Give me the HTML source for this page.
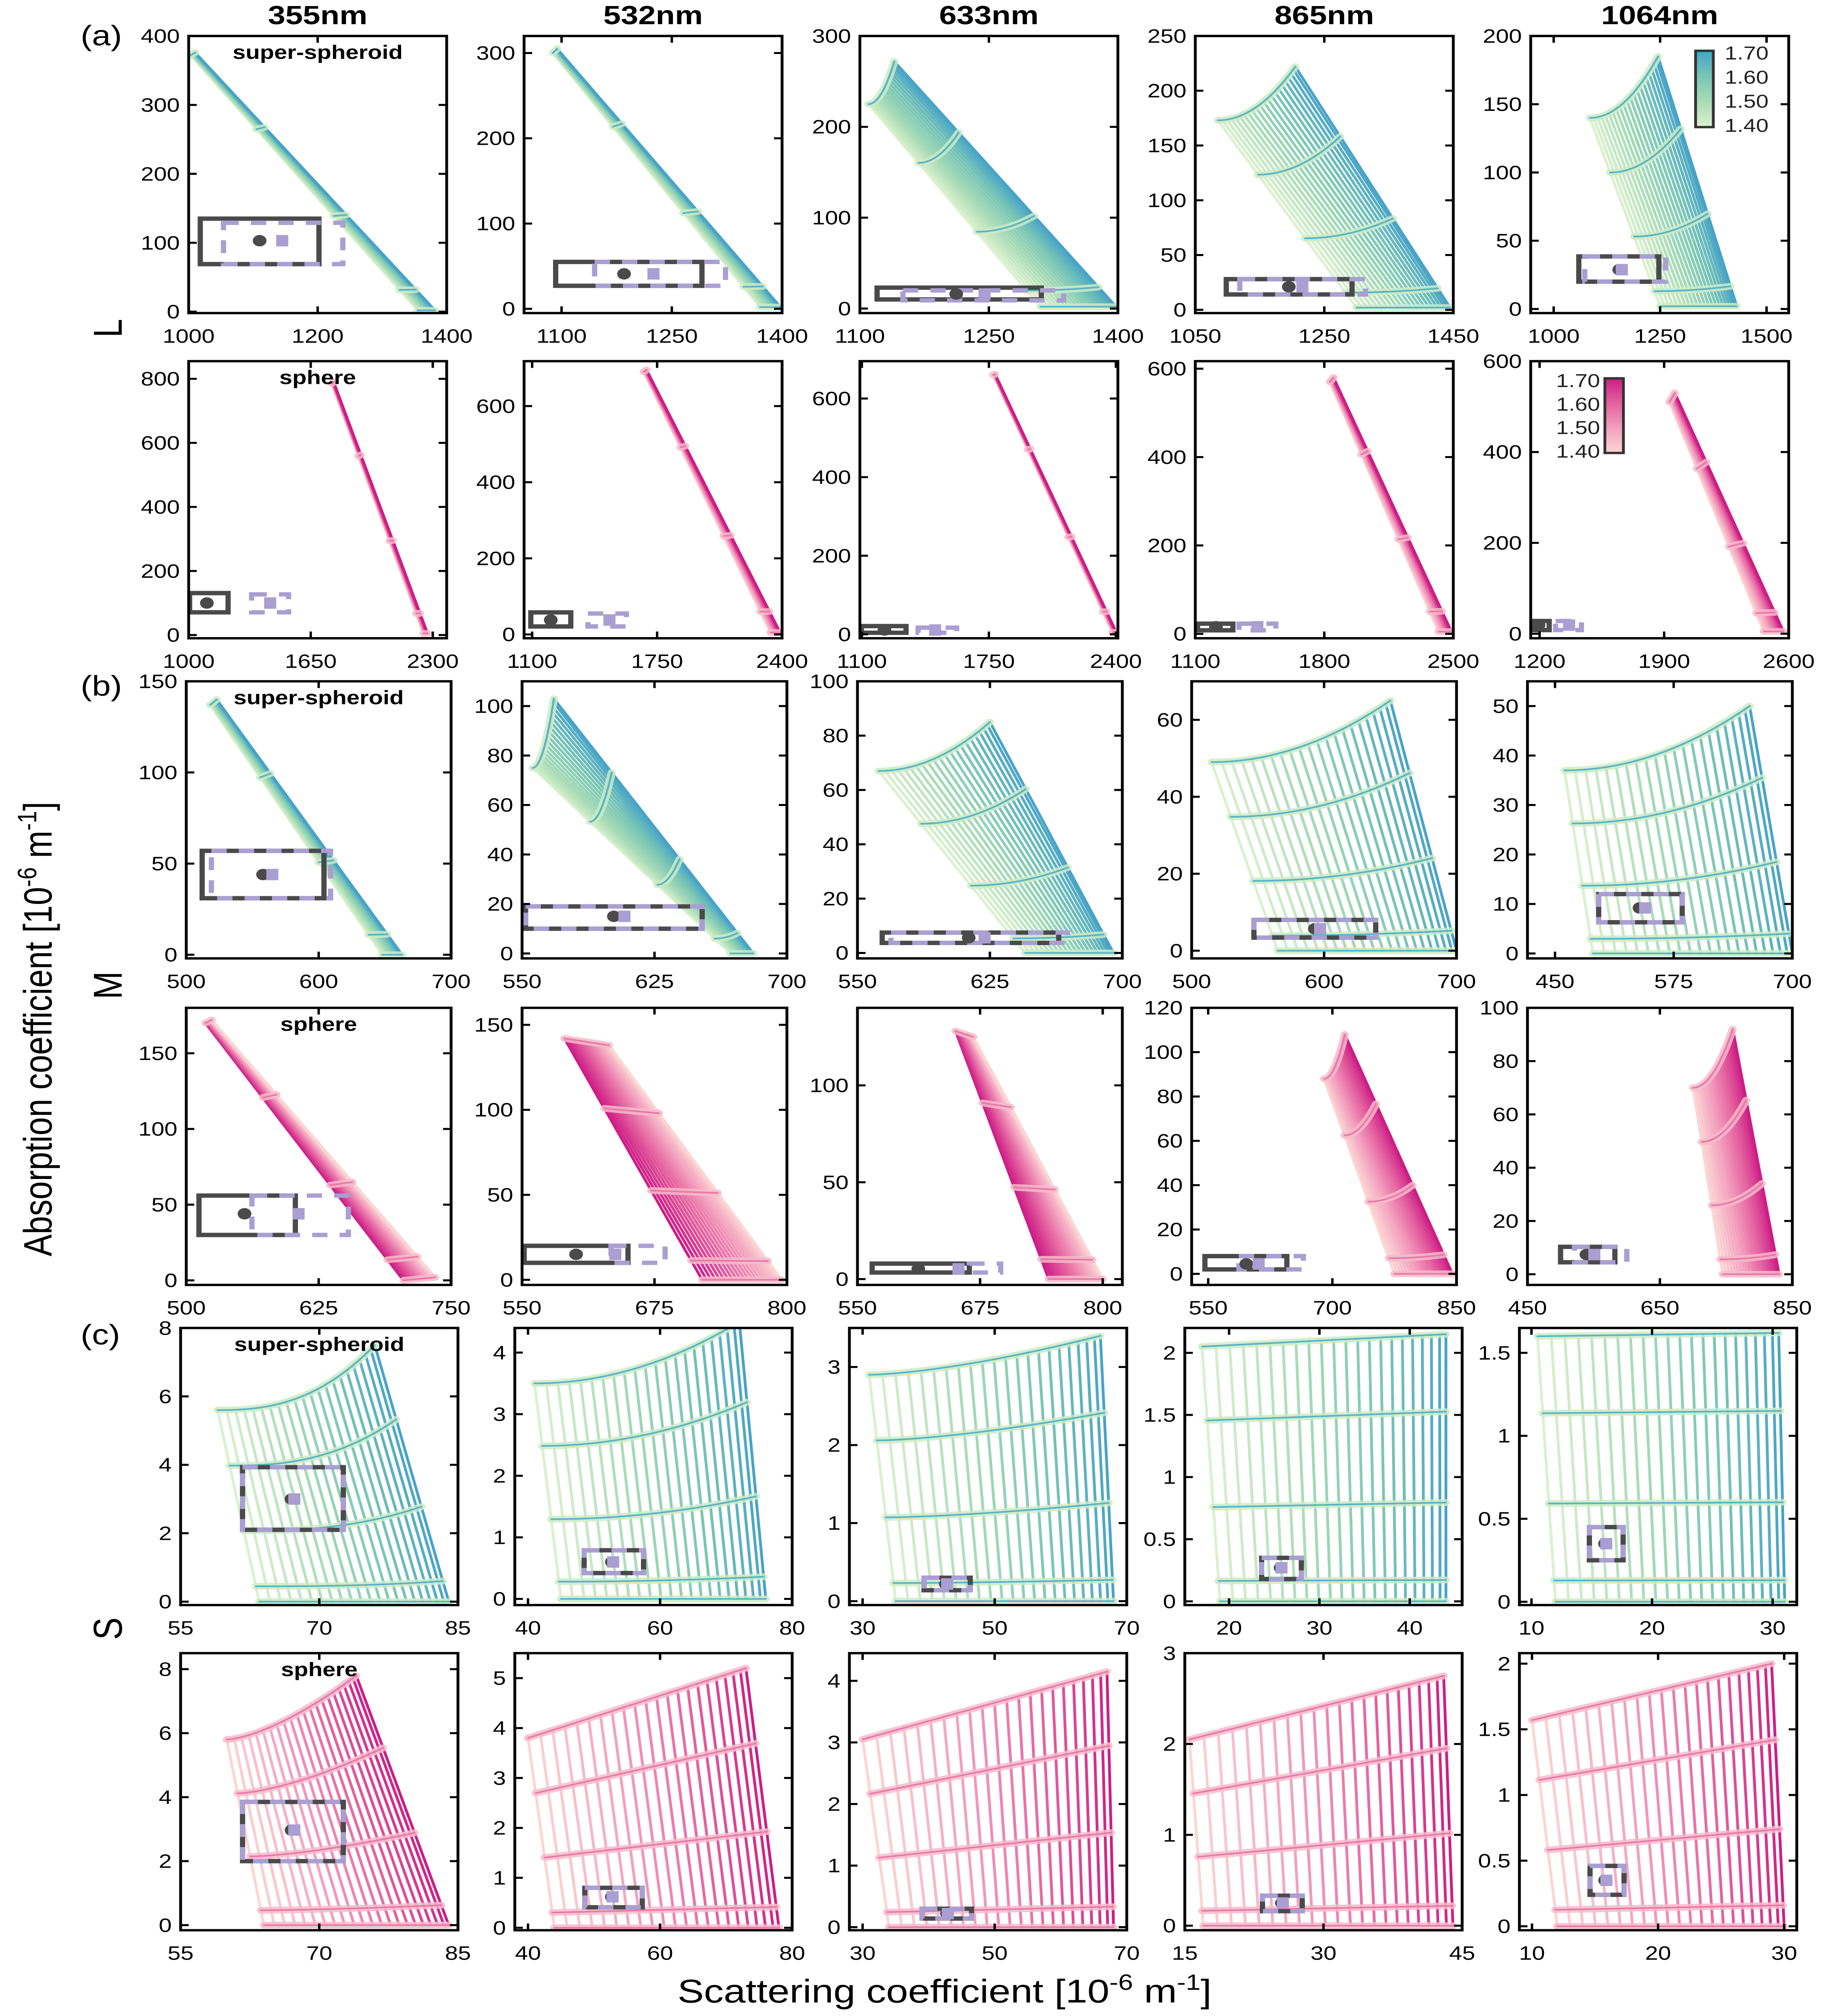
<!DOCTYPE html>
<html><head><meta charset="utf-8">
<style>
html,body{margin:0;padding:0;background:#fff;overflow:hidden;}
svg{display:block;position:absolute;left:0;top:0;width:100vw;height:100vh;font-family:"Liberation Sans",Arial,sans-serif;}
</style></head>
<body>
<svg id="fig" xmlns="http://www.w3.org/2000/svg" viewBox="0 0 4532 5995" preserveAspectRatio="none">
<rect x="0" y="0" width="4532" height="5995" fill="#fff"/>
<g font-weight="bold" font-size="78" text-anchor="middle">
<text x="788" y="72">355nm</text>
<text x="1620" y="72">532nm</text>
<text x="2453" y="72">633nm</text>
<text x="3285" y="72">865nm</text>
<text x="4117" y="72">1064nm</text>
</g>
<g font-size="84">
<text x="200" y="135">(a)</text>
<text x="200" y="2068">(b)</text>
<text x="200" y="3998">(c)</text>
</g>
<g font-size="100" text-anchor="middle">
<text transform="translate(302,976) rotate(-90)">L</text>
<text transform="translate(302,2930) rotate(-90)">M</text>
<text transform="translate(302,4843) rotate(-90)">S</text>
</g>
<text font-size="98" text-anchor="middle" transform="translate(128,3060) rotate(-90)">Absorption coefficient [10<tspan dy="-38" font-size="66">-6</tspan><tspan dy="38"> m</tspan><tspan dy="-38" font-size="66">-1</tspan><tspan dy="38">]</tspan></text>
<text font-size="98" text-anchor="middle" x="2343" y="5955">Scattering coefficient [10<tspan dy="-38" font-size="66">-6</tspan><tspan dy="38"> m</tspan><tspan dy="-38" font-size="66">-1</tspan><tspan dy="38">]</tspan></text>
<g id="panels"></g>
</svg>
<script>
// ---- data (index = row*5 + col) ----
const xRanges = [
 [1000,1400],[1049,1400],[1100,1400],[1050,1450],[946,1552],
 [1000,2374],[1058,2400],[1090,2410],[1100,2500],[1150,2600],
 [500,700],[550,700],[550,700],[500,700],[421,700],
 [500,750],[550,800],[550,820],[530,850],[450,850],
 [55,85],[38,80],[28,70],[15.1,45.8],[9,32],
 [55,85],[38,80],[28,70],[15,45],[9,31]];
const yRanges = [
 [-2,400],[-5,320],[-5,300],[-3,250],[-3,200],
 [-10,855],[-10,718],[-10,695],[-10,617],[-10,600],
 [-2,150],[-2,110],[-2,100],[-2,70],[-1,55],
 [-3,180],[-3,160],[-3,140],[-5,120],[-4,100],
 [-0.1,8],[-0.1,4.4],[-0.05,3.5],[-0.03,2.2],[-0.02,1.65],
 [-0.16,8.5],[-0.05,5.5],[-0.05,4.45],[-0.05,3],[-0.03,2.08]];
const xTicks = [
 [1000,1200,1400],[1100,1250,1400],[1100,1250,1400],[1050,1250,1450],[1000,1250,1500],
 [1000,1650,2300],[1100,1750,2400],[1100,1750,2400],[1100,1800,2500],[1200,1900,2600],
 [500,600,700],[550,625,700],[550,625,700],[500,600,700],[450,575,700],
 [500,625,750],[550,675,800],[550,675,800],[550,700,850],[450,650,850],
 [55,70,85],[40,60,80],[30,50,70],[20,30,40],[10,20,30],
 [55,70,85],[40,60,80],[30,50,70],[15,30,45],[10,20,30]];
const yTicks = [
 [0,100,200,300,400],[0,100,200,300],[0,100,200,300],[0,50,100,150,200,250],[0,50,100,150,200],
 [0,200,400,600,800],[0,200,400,600],[0,200,400,600],[0,200,400,600],[0,200,400,600],
 [0,50,100,150],[0,20,40,60,80,100],[0,20,40,60,80,100],[0,20,40,60],[0,10,20,30,40,50],
 [0,50,100,150],[0,50,100,150],[0,50,100],[0,20,40,60,80,100,120],[0,20,40,60,80,100],
 [0,2,4,6,8],[0,1,2,3,4],[0,1,2,3],[0,0.5,1,1.5,2],[0,0.5,1,1.5],
 [0,2,4,6,8],[0,1,2,3,4,5],[0,1,2,3,4],[0,1,2,3],[0,0.5,1,1.5,2]];
const meshTop = [
 [1003,372,1010,376],[1088,300,1094,305],[1110,225,1140,272],[1085,173,1205,222],[1085,140,1245,185],
 [1762,785,1772,790],[1680,690,1695,695],[1772,660,1782,662],[1830,570,1850,580],[1930,510,1960,530],
 [518,137,523,140],[556,75,568,103],[562,67,625,85],[515,49,650,65],[460,37,655,50],
 [518,170,524,172],[590,142,632,138],[650,128,668,125],[690,88,715,108],[700,70,760,92],
 [59,5.6,76,7.5],[41,3.5,72,4.5],[31,2.9,66,3.4],[17,2.05,44,2.15],[10.5,1.6,30.5,1.62],
 [60,5.8,74,7.8],[40,3.8,73,5.2],[30,3.05,67,4.15],[15.5,2.05,43,2.75],[10,1.57,29,2.0]];
const meshBottom = [
 [1355,2,1382,2],[1370,2,1398,2],[1310,2,1398,2],[1300,2,1445,2],[1250,2,1430,2],
 [2250,5,2272,5],[2340,5,2390,5],[2382,5,2402,5],[2420,5,2490,5],[2460,5,2570,5],
 [648,0,663,0],[668,0,681,0],[645,0,695,0],[565,0,700,0],[490,0,700,0],
 [705,0,735,2],[720,0,795,0],[745,0,800,0],[775,0,845,0],[745,0,830,0],
 [63.5,0,84,0],[45,0,76,0],[35,0,68,0],[19,0,44,0],[12,0,31,0],
 [64,0,84,0],[44,0,78,0],[34,0,68,0],[17,0,44,0],[12,0,30,0]];
const meshCurve = [1,1,2,2,2, 1,1,1,1,1, 1,2,2,2,2, 1,1,1,2,2, 2.5,2,1.5,1,1, 1.5,1,1,1,1];
const meshReverse = [0,0,0,0,0, 0,0,0,0,0, 0,0,0,0,0, 1,1,1,0,0, 0,0,0,0,0, 0,0,0,0,0];
const solidBoxes = [
 [1018,1202,69,135],[1092,1291,27,55],[1120,1311,10,23],[1098,1293,14,28],[1059,1247,20,38.5],
 [1005,1210,71,131],[1093,1301,21,58],[1098,1326,4,21],[1112,1304,8,23],[1150,1254,8,28],
 [512,604,31,57],[552,652,10,19],[564,664,3.7,7.5],[547,639,3.4,8],[496,584,6.3,12],
 [512,603,30,56],[552,650,10,20],[565,664,3.4,8],[546,645,2,8],[500,582,4.5,10.3],
 [61.7,72.6,2.1,3.93],[48.5,57.5,0.42,0.79],[39.3,46.3,0.14,0.3],[23.6,28,0.18,0.35],[14.8,17.6,0.25,0.45],
 [61.7,72.6,2,3.85],[48.6,57.3,0.41,0.8],[39,46.5,0.14,0.3],[23.4,27.7,0.16,0.33],[14.6,17.3,0.24,0.46]];
const dashedBoxes = [
 [1054,1239,69,129],[1145,1323,27,55],[1150,1337,9,20],[1119,1314,14,28],[1073,1263,20,38.5],
 [1335,1532,71,127],[1390,1590,21,55],[1388,1585,4,17],[1337,1537,8,23],[1290,1435,8,28],
 [519,609,31,57],[552,652,10,19],[569,669,3.7,7.5],[547,639,3.4,8],[496,584,6.3,12],
 [562,653,30,56],[634,685,10,20],[664,696,3.4,8],[587,665,2,8],[521,600,4.5,10.3],
 [61.7,72.6,2.1,3.93],[48.5,57.5,0.42,0.79],[39.3,46.3,0.14,0.3],[23.6,28,0.18,0.35],[14.8,17.6,0.25,0.45],
 [61.7,72.6,2,3.85],[48.6,57.3,0.41,0.8],[39,46.5,0.14,0.3],[23.4,27.7,0.16,0.33],[14.6,17.3,0.24,0.46]];
const dotPoints = [
 [1110,103],[1185,41],[1212,16],[1195,21],[1154,28.8],
 [1097,100],[1197,38],[1216,11],[1212,16],[1194,19],
 [558,44],[602,15],[613,5.6],[593,5.7],[539,9.2],
 [555,44],[601,15],[612,5.3],[596,4.5],[539,7.4],
 [67,3],[52.7,0.6],[42.6,0.22],[25.7,0.27],[16.1,0.35],
 [67,2.97],[52.7,0.62],[42.8,0.22],[25.5,0.25],[15.8,0.35]];
const squarePoints = [
 [1145,103],[1225,41],[1245,16],[1216,21],[1160,28.8],
 [1434,100],[1502,38],[1475,11],[1437,16],[1366,19],
 [565,44],[608,15],[622,5.6],[597,5.7],[545,9.2],
 [606,44],[638,15],[653,5.3],[611,4.5],[551,7.4],
 [67.3,3],[52.9,0.6],[42.8,0.22],[25.8,0.27],[16.2,0.35],
 [67.3,2.97],[52.8,0.62],[42.9,0.22],[25.6,0.25],[15.9,0.35]];
const colorbarLabels = ['1.70','1.60','1.50','1.40'];
const hLevels = [0,0.08,0.37,0.71,1];

// ---- layout ----
const rowTops = [107,1074,2026,2997,3949,4916];
const rowH = 824;
const groupLefts = [[468,1300,2133,2965,3797],[462,1295,2127,2956,3789],[448,1277,2107,2939,3769]];
const groupW = [640,657,688];
const greenStops = ['#dcf1cf','#a9dcb6','#79c6b5','#47a3c8'];
const pinkStops = ['#fbd6d4','#f3a0bf','#e4619f','#cd1d86'];
const NS = 'http://www.w3.org/2000/svg';
const root = document.getElementById('panels');

function mk(tag, attrs, parent){
  const el = document.createElementNS(NS, tag);
  for (const k in attrs) el.setAttribute(k, attrs[k]);
  parent.appendChild(el);
  return el;
}
function hex(c){return [1,3,5].map(i=>parseInt(c.substr(i,2),16));}
function cmap(stops,t){
  t=Math.max(0,Math.min(1,t));
  const s=t*(stops.length-1), i=Math.min(Math.floor(s),stops.length-2), f=s-i;
  const a=hex(stops[i]), b=hex(stops[i+1]);
  return 'rgb('+a.map((v,k)=>Math.round(v+(b[k]-v)*f)).join(',')+')';
}
function fmt(v){return String(v);}

for (let r=0;r<6;r++){
  for (let c=0;c<5;c++){
    const k=r*5+c, g=Math.floor(r/2);
    const L=groupLefts[g][c], W=groupW[g], T=rowTops[r], H=rowH;
    const xr=xRanges[k], yr=yRanges[k];
    const sx=v=>L+(v-xr[0])/(xr[1]-xr[0])*W;
    const sy=v=>T+H-(v-yr[0])/(yr[1]-yr[0])*H;
    const pink = (r%2===1);
    const stops = pink?pinkStops:greenStops;
    const panel = mk('g',{},root);
    
    
    const cp = mk('clipPath',{id:'clip'+k},panel);
    mk('rect',{x:L,y:T,width:W,height:H},cp);
    const plot = mk('g',{'clip-path':'url(#clip'+k+')'},panel);
    
    

    const mt=meshTop[k], mb=meshBottom[k], p=meshCurve[k], rev=meshReverse[k];
    const pt=(u,v)=>{
      const xl=mb[0]+(mt[0]-mb[0])*v, xrr=mb[2]+(mt[2]-mb[2])*v;
      const yl=mb[1]+(mt[1]-mb[1])*v, yrr=mb[3]+(mt[3]-mb[3])*v;
      return [sx(xl+(xrr-xl)*u), sy(yl+(yrr-yl)*Math.pow(u,p))];
    };
    const mesh = mk('g',{fill:'none','stroke-linecap':'round'},plot);
    
    
    const nV=22;
    for (let i=0;i<nV;i++){
      const t=i/(nV-1);
      const u=1-Math.pow(1-t,1.2);
      let d='';
      for (let j=0;j<=12;j++){const q=pt(u,j/12); d+=(j?'L':'M')+q[0].toFixed(1)+' '+q[1].toFixed(1);}
      const line = mk('path',{d:d,stroke:cmap(stops,rev?1-t:t),'stroke-width':7},mesh);
      
      
    }
    for (let h=0;h<hLevels.length;h++){
      const v=hLevels[h];
      let d='';
      for (let j=0;j<=30;j++){const q=pt(j/30,v); d+=(j?'L':'M')+q[0].toFixed(1)+' '+q[1].toFixed(1);}
      const halo = mk('path',{d:d,stroke:pink?'#f6bccb':'#cdebc6','stroke-width':20,opacity:0.85},mesh);
      
      
      const core = mk('path',{d:d,stroke:pink?'#ea79aa':'#58b4c6','stroke-width':5},mesh);
      
      
    }

    const sb=solidBoxes[k], db=dashedBoxes[k];
    const solid = mk('rect',{x:sx(sb[0]),y:sy(sb[3]),width:sx(sb[1])-sx(sb[0]),height:sy(sb[2])-sy(sb[3]),fill:'none',stroke:'#4a4a4a','stroke-width':13},plot);
    
    
    const dash = mk('rect',{x:sx(db[0]),y:sy(db[3]),width:sx(db[1])-sx(db[0]),height:sy(db[2])-sy(db[3]),fill:'none',stroke:'#a99fd2','stroke-width':13,'stroke-dasharray':'38 30'},plot);
    
    
    const dp=dotPoints[k], sp=squarePoints[k];
    const dot = mk('circle',{cx:sx(dp[0]),cy:sy(dp[1]),r:17,fill:'#4a4a4a'},plot);
    
    
    const sq = mk('rect',{x:sx(sp[0])-15,y:sy(sp[1])-17,width:30,height:34,fill:'#a99fd2'},plot);
    
    

    const ax = mk('g',{stroke:'#000',fill:'none'},panel);
    
    
    const frame = mk('rect',{x:L,y:T,width:W,height:H,'stroke-width':7},ax);
    
    
    const lab = mk('g',{'font-size':58,fill:'#000'},panel);
    
    
    xTicks[k].forEach(v=>{
      const x=sx(v);
      const t1 = mk('line',{x1:x,x2:x,y1:T+H,y2:T+H-20,'stroke-width':6},ax);
      
      
      const t2 = mk('line',{x1:x,x2:x,y1:T,y2:T+20,'stroke-width':6},ax);
      
      
      const tx = mk('text',{x:x,y:T+H+88,'text-anchor':'middle'},lab);
      
      
      tx.textContent=fmt(v);
    });
    yTicks[k].forEach(v=>{
      const y=sy(v);
      const t1 = mk('line',{x1:L,x2:L+20,y1:y,y2:y,'stroke-width':6},ax);
      
      
      const t2 = mk('line',{x1:L+W,x2:L+W-20,y1:y,y2:y,'stroke-width':6},ax);
      
      
      const ty = mk('text',{x:L-22,y:y+20,'text-anchor':'end'},lab);
      
      
      ty.textContent=fmt(v);
    });

    if (c===0){
      const st = mk('text',{x:L+W*0.5,y:T+68,'text-anchor':'middle','font-size':58,'font-weight':'bold'},panel);
      
      
      st.textContent = pink?'sphere':'super-spheroid';
    }
  }
}

function colorbar(x,y,w,h,stops,labelLeft,name){
  const g = mk('g',{},root);
  
  
  const id='grad-'+name;
  const defs = mk('defs',{},g);
  const lg = mk('linearGradient',{id:id,x1:0,y1:1,x2:0,y2:0},defs);
  stops.forEach((s,i)=>mk('stop',{offset:i/(stops.length-1),'stop-color':s},lg));
  const bar = mk('rect',{x:x,y:y,width:w,height:h,fill:'url(#'+id+')',stroke:'#333','stroke-width':7},g);
  
  
  colorbarLabels.forEach((t,i)=>{
    const ty=y+6+i*(h-12)/3;
    const tx = mk('text',{x:labelLeft?x-12:x+w+28,y:ty+20,'font-size':56,fill:'#222','text-anchor':labelLeft?'end':'start'},g);
    
    
    tx.textContent=t;
  });
}
colorbar(4206,151,44,227,greenStops,false,'colorbar-green');
colorbar(3981,1125,46,222,pinkStops,true,'colorbar-pink');
</script>
</body></html>
